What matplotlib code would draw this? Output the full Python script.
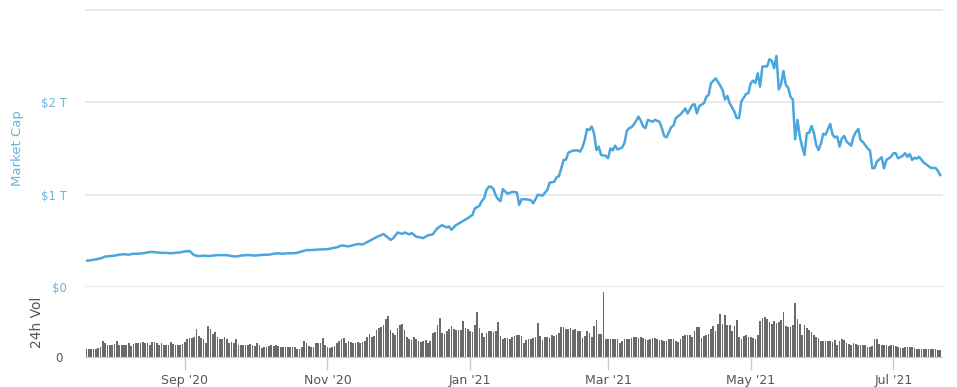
import numpy as np
import pandas as pd
import matplotlib
matplotlib.use("Agg")
import matplotlib.pyplot as plt
import matplotlib.dates as mdates

START = pd.Timestamp("2020-07-21")

# market cap, trillions USD (day offset from START)
mcap_day = list(range(0, 97, 2)) + [
    99, 103, 107, 109, 112, 116, 118, 121, 124, 127,
    130, 131, 133, 135, 136, 138, 139, 141, 144, 146,
    148, 150, 152, 154, 155, 156, 158, 161, 163, 165,
    166, 168, 169, 170, 171, 172, 173, 174, 175, 176,
    177, 178, 180, 182, 184, 185, 186, 188, 190, 191,
    193, 195, 197, 198, 200, 201, 202, 204, 205, 206,
    208, 210, 211, 212, 213, 214, 215, 216, 217, 218,
    219, 220, 222, 223, 224, 225, 226, 227, 229, 230,
    231, 232, 233, 234, 235, 236, 237, 238, 239, 240,
    242, 243, 245, 246, 247, 248, 250, 251, 252, 254,
    255, 256, 257, 259, 260, 261, 262, 264, 265, 266,
    267, 269, 270, 271, 272, 273, 274, 275, 277, 278,
    279, 280, 282, 283, 284, 285, 286, 287, 288, 289,
    291, 292, 293, 294, 295, 296, 297, 298, 299, 300,
    301, 302, 303, 304, 305, 306, 307, 308, 309, 310,
    311, 312, 313, 314, 315, 316, 318, 319, 320, 321,
    322, 323, 324, 325, 327, 328, 329, 330, 331, 332,
    334, 335, 336, 337, 338, 340, 341, 342, 344, 345,
    346, 347, 349, 350, 351, 352, 353, 354, 355, 356,
    358, 359, 361, 363, 364, 365]
mcap_tn = [
    0.285, 0.29, 0.30, 0.31, 0.33, 0.335, 0.34, 0.35, 0.355, 0.35,
    0.36, 0.36, 0.365, 0.375, 0.38, 0.375, 0.37, 0.37, 0.365, 0.37,
    0.375, 0.385, 0.39, 0.345, 0.335, 0.34, 0.335, 0.34, 0.345, 0.345,
    0.345, 0.335, 0.33, 0.34, 0.345, 0.345, 0.34, 0.345, 0.35, 0.35,
    0.36, 0.365, 0.36, 0.365, 0.365, 0.37, 0.385, 0.40, 0.40,
    0.405, 0.41, 0.43, 0.45, 0.44, 0.466, 0.46, 0.50, 0.54, 0.574,
    0.51, 0.525, 0.59, 0.575, 0.59, 0.57, 0.585, 0.545, 0.53, 0.56,
    0.57, 0.636, 0.67, 0.645, 0.655, 0.62, 0.67, 0.715, 0.745, 0.78,
    0.85, 0.88, 0.93, 0.96, 1.05, 1.087, 1.085, 1.06, 0.99, 0.95,
    0.93, 1.06, 1.01, 1.03, 1.025, 0.89, 0.95, 0.95, 0.94, 0.907,
    1.0, 0.99, 1.05, 1.13, 1.14, 1.19, 1.20, 1.375, 1.38, 1.455,
    1.477, 1.48, 1.465, 1.51, 1.59, 1.71, 1.70, 1.737, 1.665, 1.484,
    1.52, 1.43, 1.42, 1.394, 1.50, 1.48, 1.53, 1.49, 1.51, 1.557,
    1.69, 1.72, 1.73, 1.76, 1.80, 1.845, 1.80, 1.74, 1.72, 1.81,
    1.79, 1.81, 1.79, 1.72, 1.636, 1.62, 1.73, 1.75, 1.83, 1.87,
    1.90, 1.935, 1.88, 1.97, 1.98, 1.88, 1.96, 1.99, 2.06, 2.08,
    2.207, 2.26, 2.22, 2.18, 2.13, 2.03, 2.07, 1.99, 1.90, 1.83,
    1.83, 2.01, 2.09, 2.10, 2.207, 2.235, 2.21, 2.315, 2.17, 2.387,
    2.39, 2.467, 2.45, 2.37, 2.503, 2.14, 2.2, 2.34, 2.19, 2.16,
    2.06, 2.03, 1.60, 1.81, 1.63, 1.52, 1.43, 1.665, 1.67, 1.744,
    1.67, 1.54, 1.484, 1.55, 1.66, 1.65, 1.766, 1.65, 1.62, 1.63,
    1.52, 1.61, 1.636, 1.575, 1.53, 1.63, 1.68, 1.71, 1.59, 1.57,
    1.50, 1.48, 1.286, 1.29, 1.36, 1.405, 1.286, 1.376, 1.41, 1.449,
    1.449, 1.394, 1.42, 1.45, 1.41, 1.44, 1.376, 1.40, 1.39, 1.41,
    1.347, 1.33, 1.29, 1.29, 1.26, 1.213]

# daily 24h volume, billions USD
volume_bn = [
    40, 40, 38, 40, 40, 44, 48, 80, 68, 60,
    60, 60, 65, 78, 60, 62, 62, 60, 68, 55,
    65, 70, 70, 72, 75, 68, 68, 62, 75, 75,
    70, 62, 72, 60, 58, 62, 75, 65, 62, 58,
    62, 65, 75, 90, 95, 95, 100, 138, 105, 95,
    90, 70, 155, 140, 115, 125, 100, 90, 90, 100,
    88, 70, 75, 70, 88, 62, 62, 62, 58, 60,
    65, 62, 55, 70, 60, 45, 48, 52, 55, 60,
    55, 58, 55, 50, 52, 50, 50, 50, 50, 50,
    42, 40, 52, 78, 68, 55, 52, 48, 70, 68,
    70, 95, 62, 48, 45, 50, 55, 70, 78, 90,
    95, 70, 78, 75, 70, 72, 75, 72, 75, 78,
    100, 115, 100, 105, 135, 145, 150, 160, 190, 205,
    135, 120, 110, 145, 160, 165, 135, 100, 90, 85,
    100, 90, 80, 75, 80, 85, 72, 80, 120, 125,
    160, 195, 120, 115, 130, 140, 155, 140, 135, 135,
    135, 180, 145, 140, 130, 125, 160, 225, 145, 120,
    100, 120, 130, 130, 125, 130, 175, 105, 90, 95,
    95, 90, 100, 105, 108, 108, 105, 72, 85, 92,
    90, 95, 100, 168, 105, 85, 98, 100, 95, 110,
    105, 108, 118, 148, 150, 140, 138, 145, 135, 140,
    130, 130, 95, 105, 130, 120, 100, 155, 185, 115,
    115, 325, 92, 90, 92, 92, 90, 92, 72, 80,
    90, 92, 92, 95, 100, 100, 95, 100, 95, 90,
    85, 90, 95, 95, 90, 85, 85, 80, 82, 90,
    90, 90, 80, 75, 90, 105, 110, 110, 108, 100,
    130, 150, 150, 95, 105, 110, 115, 140, 155, 130,
    165, 215, 165, 210, 160, 160, 130, 155, 185, 100,
    92, 105, 110, 100, 100, 95, 92, 110, 180, 195,
    200, 190, 175, 165, 180, 172, 175, 185, 225, 155,
    150, 150, 160, 270, 190, 165, 110, 160, 145, 135,
    125, 110, 100, 95, 80, 80, 78, 78, 78, 75,
    85, 60, 80, 90, 85, 70, 65, 62, 68, 65,
    62, 60, 58, 60, 52, 52, 55, 88, 92, 65,
    58, 60, 58, 55, 58, 58, 55, 50, 45, 45,
    48, 50, 50, 50, 45, 38, 38, 40, 40, 42,
    40, 38, 40, 38, 35, 35]

month_ticks = ["2020-09-01", "2020-11-01", "2021-01-01",
               "2021-03-01", "2021-05-01", "2021-07-01"]
month_labels = ["Sep '20", "Nov '20", "Jan '21", "Mar '21", "May '21", "Jul '21"]
cap_ticks = [0, 1, 2, 3]
cap_labels = ["$0", "$1 T", "$2 T", ""]

assert len(mcap_day) == len(mcap_tn)

LINE = "#4aa6dc"
BLUE_TXT = "#6cb4dc"
GRAY_TXT = "#555555"
GRID = "#e6e6e6"

cap_dates = START + pd.to_timedelta(mcap_day, unit="D")
vol_dates = pd.date_range(START, periods=len(volume_bn), freq="D")
x0 = START - pd.Timedelta(hours=6)
x1 = START + pd.Timedelta(days=365.8)

fig = plt.figure(figsize=(9.57, 3.87), dpi=100)
W, H = 957, 387
L, R = 86, 942

# top pane: market cap
ax = fig.add_axes([L / W, 1 - 287 / H, (R - L) / W, (287 - 10) / H])
ax.plot(cap_dates, mcap_tn, color=LINE, linewidth=1.8, solid_joinstyle="round")
ax.set_xlim(x0, x1)
ax.set_ylim(0, 3)
ax.set_yticks(cap_ticks)
ax.set_yticklabels(cap_labels)
ax.tick_params(axis="y", length=0, pad=14, labelsize=8.5, labelcolor=BLUE_TXT)
ax.set_xticks([])
ax.grid(axis="y", color=GRID, linewidth=1.2)
for gl in ax.get_ygridlines():
    gl.set_clip_on(False)
for s in ax.spines.values():
    s.set_visible(False)
ax.set_ylabel("Market Cap", color=BLUE_TXT, fontsize=9.5)
ax.yaxis.set_label_coords(-0.072, 0.5)

# bottom pane: volume
axv = fig.add_axes([L / W, 1 - 357 / H, (R - L) / W, 70 / H])
axv.bar(vol_dates, volume_bn, width=0.72, color="#6a6a6a", edgecolor="none")
axv.set_xlim(x0, x1)
axv.set_ylim(0, 350)
axv.set_yticks([0])
axv.set_yticklabels(["0"])
axv.tick_params(axis="y", length=0, pad=17, labelsize=8.5, labelcolor=GRAY_TXT)
axv.set_xticks(pd.to_datetime(month_ticks))
axv.set_xticklabels(month_labels)
axv.tick_params(axis="x", direction="out", length=9, width=1, color="#cccccc",
                pad=3, labelsize=9, labelcolor=GRAY_TXT)
for name in ["top", "left", "right"]:
    axv.spines[name].set_visible(False)
axv.spines["bottom"].set_color("#cccccc")
axv.set_ylabel("24h Vol", color=GRAY_TXT, fontsize=10)
axv.yaxis.set_label_coords(-0.049, 0.5)

fig.savefig("out.png", dpi=100)
plt.close(fig)
